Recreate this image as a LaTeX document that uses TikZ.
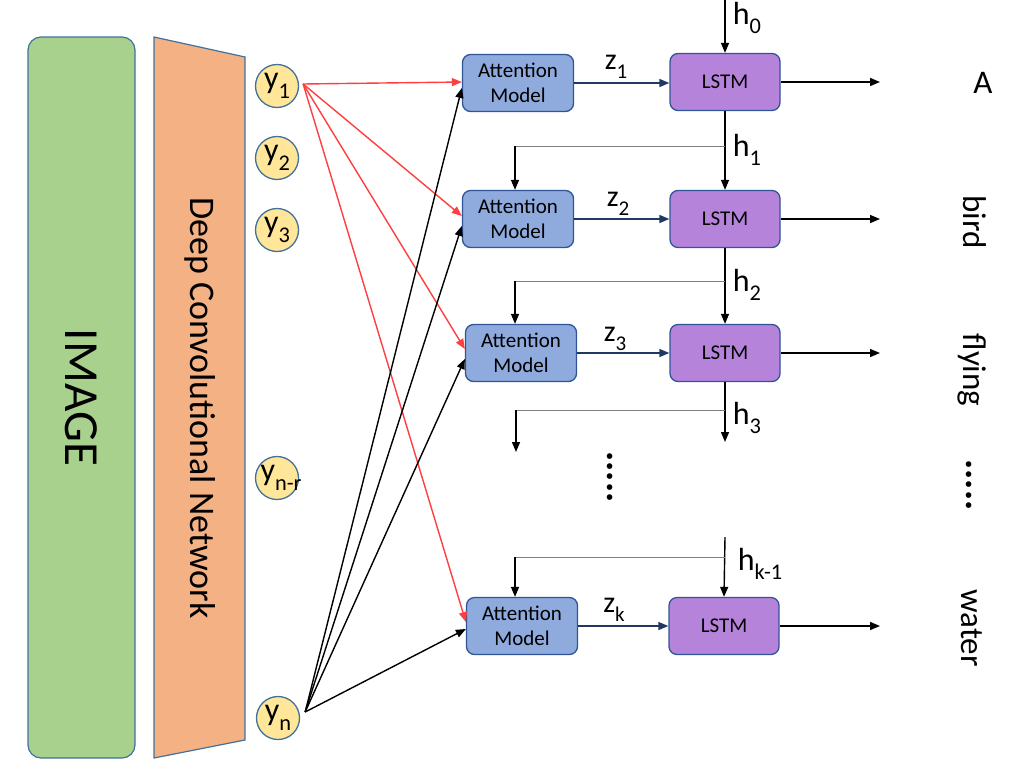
\documentclass[tikz,border=0pt]{standalone}
\usepackage{fontspec}
\setmainfont{Carlito}
\usetikzlibrary{arrows.meta}
\definecolor{imggreen}{HTML}{A9D18E}
\definecolor{cnnorange}{HTML}{F4B183}
\definecolor{circyellow}{HTML}{FFE699}
\definecolor{attblue}{HTML}{8FAADC}
\definecolor{lstmpurple}{HTML}{B683DB}
\definecolor{edgeblue}{HTML}{2F5597}
\definecolor{outlineblue}{HTML}{41719C}
\definecolor{zblue}{HTML}{203864}
\definecolor{redline}{HTML}{FF3F3F}
\definecolor{branchgray}{HTML}{7F7F7F}
\newcommand{\fs}[1]{\fontsize{#1}{#1}\selectfont}
\newcommand{\lowsub}[1]{\raisebox{-0.3em}{\scalebox{0.7}{#1}}}
\tikzset{
  attbox/.style={draw=edgeblue, fill=attblue, rounded corners=8pt, minimum width=111pt,
    minimum height=57pt, line width=1.3pt, align=center, inner sep=0pt,
    font=\fontsize{21}{25}\selectfont},
  lstmbox/.style={draw=edgeblue, fill=lstmpurple, rounded corners=8pt, minimum width=110pt,
    minimum height=57pt, line width=1.3pt, inner sep=0pt, font=\fs{21}},
  ycirc/.style={circle, draw=outlineblue, fill=circyellow, line width=1.3pt,
    minimum size=43pt, inner sep=0pt},
  ylab/.style={font=\fs{32}, inner sep=0pt},
  arr/.style={-{Triangle[length=10pt,width=8pt]}, line width=1.4pt},
  redarr/.style={arr, draw=redline, -{Triangle[length=10pt,width=8pt,fill=redline]}},
  zarr/.style={arr, draw=zblue},
  branch/.style={draw=branchgray, line width=1pt},
  hlab/.style={font=\fs{32}, inner sep=0pt},
  zlab/.style={font=\fs{30}, inner sep=0pt},
  word/.style={font=\fs{33}, inner sep=0pt},
  dotstext/.style={rotate=-90, font=\fs{38}\bfseries, inner sep=0pt, anchor=base}
}
\begin{document}
\begin{tikzpicture}[x=1pt,y=-1pt]
\useasboundingbox (0,0) rectangle (1024,763);

% image and CNN
\node[draw=outlineblue, fill=imggreen, rounded corners=13pt, line width=1.2pt,
  minimum width=721pt, minimum height=107pt, inner sep=0pt, rotate=-90,
  font=\fs{49}] (img) at (81.5,397.5) {IMAGE};
\draw[draw=outlineblue, fill=cnnorange, line width=1.2pt]
  (154,37) -- (245,57) -- (245,740) -- (154,758) -- cycle;
\node[rotate=-90, font=\fs{36}, inner sep=0pt] (cnn) at (200,408) {Deep Convolutional Network};

% feature circles
\node[ycirc] (y1) at (277,86) {};
\node[ycirc] (y2) at (277,158) {};
\node[ycirc] (y3) at (277,230) {};
\node[ycirc] (ynr) at (277,478) {};
\node[ycirc] (yn) at (278,718) {};
\node[ylab] (t1) at (y1.center) {y\lowsub{1}};
\node[ylab] (t2) at (y2.center) {y\lowsub{2}};
\node[ylab] (t3) at (y3.center) {y\lowsub{3}};
\node[ylab] (tnr) at (281,478) {y\lowsub{n-r}};
\node[ylab] (tn) at (yn.center) {y\lowsub{n}};

% attention and LSTM rows
\node[attbox] (a1) at (518,83) {Attention\\Model};
\node[attbox] (a2) at (518,219) {Attention\\Model};
\node[attbox] (a3) at (521,353) {Attention\\Model};
\node[attbox] (ak) at (522,626) {Attention\\Model};
\node[lstmbox] (l1) at (725,82) {LSTM};
\node[lstmbox] (l2) at (725,219) {LSTM};
\node[lstmbox] (l3) at (725,353) {LSTM};
\node[lstmbox] (lk) at (724,626) {LSTM};

% z arrows
\draw[zarr] (a1.east) -- (a1.east -| l1.west);
\draw[zarr] (a2.east) -- (a2.east -| l2.west);
\draw[zarr] (a3.east) -- (a3.east -| l3.west);
\draw[zarr] (ak.east) -- (ak.east -| lk.west);
\node[zlab] (z1) at (616,67) {z\lowsub{1}};
\node[zlab] (z2) at (618,204) {z\lowsub{2}};
\node[zlab] (z3) at (615,339) {z\lowsub{3}};
\node[zlab] (zk) at (614,610) {z\lowsub{k}};

% hidden states
\coordinate (h0s) at (725,0);
\draw[arr] (h0s) -- (l1.north);
\node[hlab] (h0) at (747,18) {h\lowsub{0}};

\draw[arr] (l1.south) -- (l2.north);
\coordinate (j1) at (725,146);
\coordinate (b1) at (515,146);
\draw[branch] (j1) -- (b1);
\draw[arr] (b1) -- (b1 |- a2.north);
\node[hlab] (h1) at (747,150) {h\lowsub{1}};

\draw[arr] (l2.south) -- (l3.north);
\coordinate (j2) at (725,281);
\coordinate (b2) at (515,281);
\draw[branch] (j2) -- (b2);
\draw[arr] (b2) -- (b2 |- a3.north);
\node[hlab] (h2) at (747,285) {h\lowsub{2}};

\coordinate (h3e) at (725,442);
\draw[arr] (l3.south) -- (h3e);
\coordinate (j3) at (725,410);
\coordinate (b3) at (516,410);
\coordinate (b3e) at (516,452);
\draw[branch] (j3) -- (b3);
\draw[arr] (b3) -- (b3e);
\node[hlab] (h3) at (747,418) {h\lowsub{3}};

\coordinate (hks) at (725,537);
\draw[arr] (hks) -- (lk.north);
\coordinate (jk) at (725,557);
\coordinate (bk) at (515,557);
\draw[branch] (jk) -- (bk);
\draw[arr] (bk) -- (bk |- ak.north);
\node[hlab] (hk) at (760,564) {h\lowsub{k-1}};

% outputs
\coordinate (o1) at (880,82);
\coordinate (o2) at (880,219);
\coordinate (o3) at (880,353);
\coordinate (ok) at (880,626);
\draw[arr] (l1.east) -- (o1);
\draw[arr] (l2.east) -- (o2);
\draw[arr] (l3.east) -- (o3);
\draw[arr] (lk.east) -- (ok);

\node[word] (w1) at (983,83) {A};
\node[word, rotate=-90] (w2) at (975,222) {bird};
\node[word, rotate=-90] (w3) at (972,370) {flying};
\node[word, rotate=-90] (wk) at (972,628) {water};
\node[dotstext] (dm) at (607,477) {.....};
\node[dotstext] (dr) at (966,485) {.....};

% red connections from y1
\draw[redarr] ([xshift=4pt,yshift=2pt]y1.east) -- ([yshift=1pt]a1.west);
\draw[redarr] ([xshift=4pt,yshift=2pt]y1.east) -- ([yshift=3pt]a2.west);
\draw[redarr] ([xshift=4pt,yshift=2pt]y1.east) -- ([yshift=4pt]a3.west);
\draw[redarr] ([xshift=4pt,yshift=2pt]y1.east) -- ([yshift=4pt]ak.west);

% black connections from yn
\draw[arr] ([xshift=5pt,yshift=6pt]yn.east) -- ([yshift=-5pt]a1.west);
\draw[arr] ([xshift=5pt,yshift=6pt]yn.east) -- ([yshift=-7pt]a2.west);
\draw[arr] ([xshift=5pt,yshift=6pt]yn.east) -- ([yshift=-6pt]a3.west);
\draw[arr] ([xshift=5pt,yshift=6pt]yn.east) -- ([yshift=-3pt]ak.west);
\end{tikzpicture}
\end{document}
